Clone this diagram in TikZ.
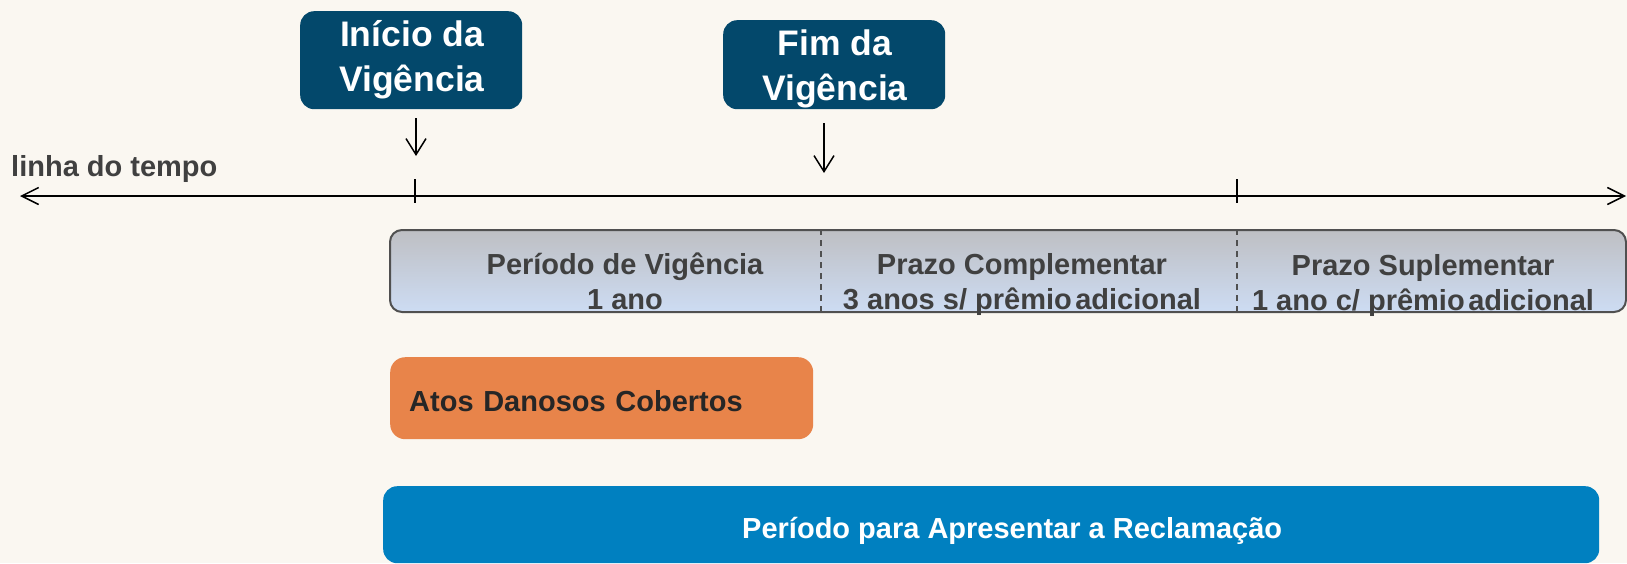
\documentclass[tikz,border=0pt]{standalone}
\usepackage{fontspec}
\setmainfont{Liberation Sans}
\usetikzlibrary{arrows.meta}
\definecolor{bg}{HTML}{FAF7F1}
\definecolor{hdrblue}{HTML}{03486B}
\definecolor{txtgray}{HTML}{404040}
\definecolor{bartop}{HTML}{BEBFC3}
\definecolor{barbot}{HTML}{CDDCF3}
\definecolor{barline}{HTML}{505050}
\definecolor{orangebox}{HTML}{E8844A}
\definecolor{bluebox}{HTML}{0080C0}
\definecolor{darktxt}{HTML}{262626}
\begin{document}
\begin{tikzpicture}[x=1pt,y=-1pt,
  hdrbox/.style={fill=hdrblue, rounded corners=14pt, inner sep=0pt, minimum width=222pt, anchor=north west},
  hdrtext/.style={anchor=base, text=white, font=\fontsize{35.5}{45}\selectfont\bfseries, inner sep=0pt},
  bartext/.style={anchor=base, text=txtgray, font=\fontsize{29}{35}\selectfont\bfseries, inner sep=0pt},
  tline/.style={line width=1.6pt, black},
  downarrow/.style={line width=1.5pt, black, -{Straight Barb[length=16pt,width=20pt,line width=1.5pt]}},
  divider/.style={line width=1.5pt, barline, dash pattern=on 6pt off 5pt},
]
\useasboundingbox (0,0) rectangle (1627,563);
\fill[bg] (0,0) rectangle (1627,563);

% header boxes
\node[hdrbox, minimum height=98pt] (ini) at (300,11) {};
\node[hdrtext] (initxt) at (412,46) {\begin{tabular}[t]{@{}c@{}}Início da\\Vigência\end{tabular}};
\node[hdrbox, minimum height=89pt] (fim) at (723,20) {};
\node[hdrtext] (fimtxt) at (835,55) {\begin{tabular}[t]{@{}c@{}}Fim da\\Vigência\end{tabular}};

% down arrows
\coordinate (a1s) at (416,118);
\coordinate (a1e) at (416,156);
\coordinate (a2s) at (824,123);
\coordinate (a2e) at (824,173);
\draw[downarrow] (a1s) -- (a1e);
\draw[downarrow] (a2s) -- (a2e);

% timeline
\node[anchor=base west, inner sep=0pt, text=txtgray, font=\fontsize{29}{33}\selectfont\bfseries] (tlabel) at (11,176) {linha do tempo};
\coordinate (tlL) at (20,196);
\coordinate (tlR) at (1626,196);
\draw[tline, {Straight Barb[length=17pt,width=17pt,line width=1.5pt]}-{Straight Barb[length=17pt,width=17pt,line width=1.5pt]}] (tlL) -- (tlR);
\draw[tline] (415,179) -- (415,203);
\draw[tline] (1237,179) -- (1237,203);

% gray period bar
\node[draw=barline, line width=2pt, rounded corners=12pt, top color=bartop, bottom color=barbot,
      inner sep=0pt, minimum width=1236pt, minimum height=82pt, anchor=north west] (bar) at (389,229) {};
\draw[divider] (821,0 |- bar.north) -- (821,0 |- bar.south);
\draw[divider] (1237,0 |- bar.north) -- (1237,0 |- bar.south);
\node[bartext] (vig) at (625,274) {\begin{tabular}[t]{@{}c@{}}Período de Vigência\\1 ano\end{tabular}};
\node[bartext] (comp) at (1022,274) {\begin{tabular}[t]{@{}c@{}}Prazo Complementar\\3 anos s/ prêmio\kern0.12em adicional\end{tabular}};
\node[bartext] (supl) at (1423,275) {\begin{tabular}[t]{@{}c@{}}Prazo Suplementar\\1 ano c/ prêmio\kern0.12em adicional\end{tabular}};

% orange box
\node[fill=orangebox, rounded corners=15pt, anchor=north west, minimum height=82pt,
      text width=385pt, inner xsep=19pt, inner ysep=0pt, align=left,
      text height=29pt, text depth=3pt, text=darktxt,
      font=\fontsize{29}{33}\selectfont\bfseries] (atos) at (390,357) {Atos Danosos Cobertos};

% blue box
\node[fill=bluebox, rounded corners=14pt, anchor=north west, minimum width=1216pt, minimum height=77pt,
      inner sep=0pt, text height=30pt, text depth=3pt, text=white,
      font=\fontsize{29}{33}\selectfont\bfseries] (claim) at (383,486) {\hspace*{42pt}Período para Apresentar a Reclamação};
\end{tikzpicture}
\end{document}
